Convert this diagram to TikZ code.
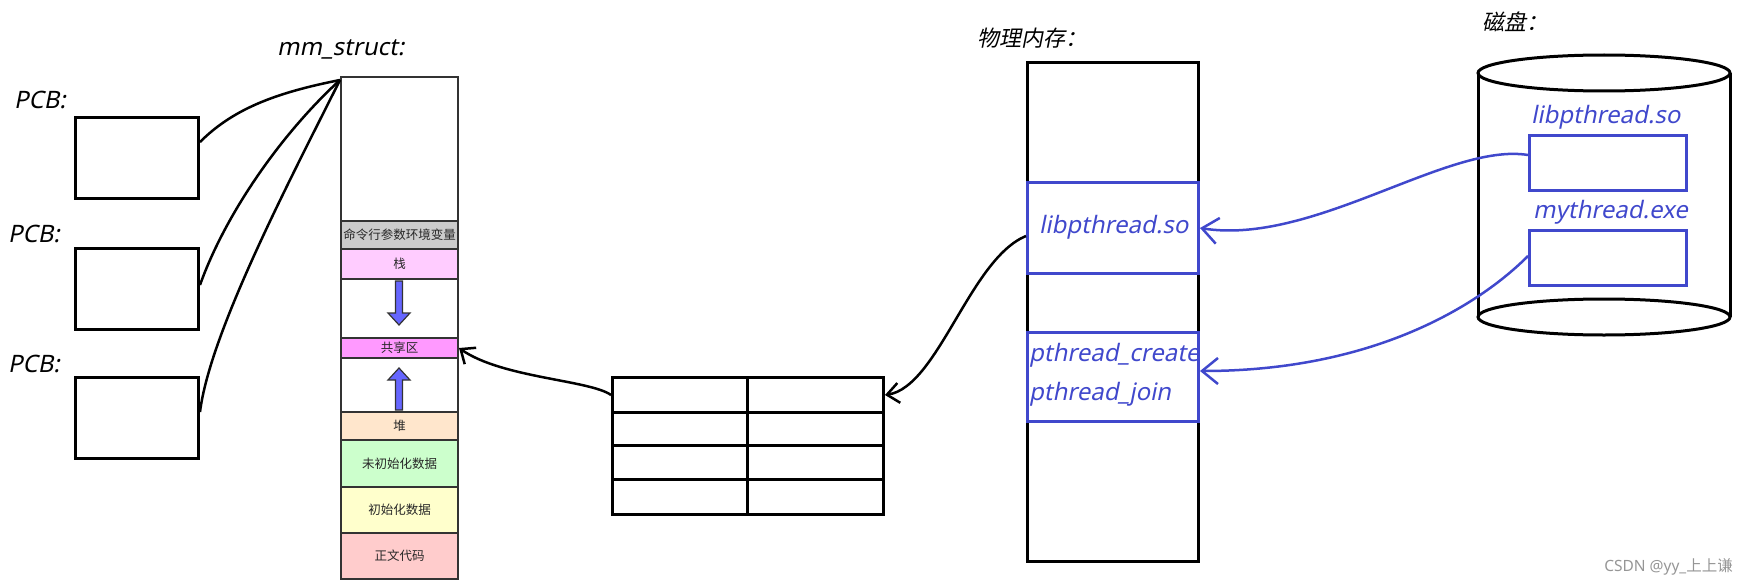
\documentclass[tikz,border=0pt]{standalone}
\usepackage{fontspec}
\setmainfont{Noto Sans}
\newfontfamily\lat[FakeSlant=0.2]{Noto Sans}
\newfontfamily\cjk{Noto Sans CJK SC}
\newfontfamily\cjksl[FakeSlant=0.2]{Noto Sans CJK SC}
\usetikzlibrary{arrows.meta}
\definecolor{lineblue}{RGB}{64,72,204}
\definecolor{segline}{RGB}{51,51,51}
\definecolor{segtext}{RGB}{40,40,40}
\definecolor{cmdfill}{HTML}{CCCCCC}
\definecolor{stackfill}{HTML}{FFCCFF}
\definecolor{sharefill}{HTML}{FF99FF}
\definecolor{heapfill}{HTML}{FFE6CC}
\definecolor{bssfill}{HTML}{CCFFCC}
\definecolor{datafill}{HTML}{FFFFCC}
\definecolor{codefill}{HTML}{FFCCCC}
\definecolor{arrowfill}{HTML}{6666FF}
\definecolor{wmgray}{RGB}{150,150,150}
\begin{document}
\begin{tikzpicture}[x=1pt,y=-1pt,
  box/.style={draw=black, line width=3pt, inner sep=0pt, anchor=north west},
  seg/.style={draw=segline, line width=2pt, inner sep=0pt, anchor=north west, minimum width=117pt, font=\cjk\fontsize{12.5}{14}\selectfont, text=segtext},
  bbox/.style={draw=lineblue, line width=3pt, inner sep=0pt, anchor=north west},
  lbl/.style={font=\lat\fontsize{24}{28}\selectfont, inner sep=0pt, anchor=base west},
  btxt/.style={lbl, text=lineblue},
  plainc/.style={line width=2.5pt},
  conn/.style={line width=2.5pt, -{Straight Barb[length=12pt,width=20pt]}},
  bconn/.style={line width=2.5pt, draw=lineblue, -{Straight Barb[length=16pt,width=26pt]}},
  growarrow/.style={fill=arrowfill, draw=segline, line width=1.2pt, line join=miter}
]
\useasboundingbox (0,0) rectangle (1749,586);

% PCB boxes and labels
\node[lbl] (pcbl1) at (14,108) {PCB:};
\node[lbl] (pcbl2) at (8,242) {PCB:};
\node[lbl] (pcbl3) at (8,372) {PCB:};
\node[box, minimum width=123pt, minimum height=81pt] (pcb1) at (74,116) {};
\node[box, minimum width=123pt, minimum height=81pt] (pcb2) at (74,247) {};
\node[box, minimum width=123pt, minimum height=81pt] (pcb3) at (74,376) {};

% mm_struct column
\node[lbl] (mmlbl) at (277,56) {mm\_struct:};
\node[seg, minimum height=144pt, fill=white] (mtop) at (340,76) {};
\node[seg, minimum height=28pt, fill=cmdfill] (cmd) at (340,220) {命令行参数环境变量};
\node[seg, minimum height=30pt, fill=stackfill] (stack) at (340,248) {栈};
\node[seg, minimum height=59pt, fill=white] (gap1) at (340,278) {};
\node[seg, minimum height=20pt, fill=sharefill] (shared) at (340,337) {共享区};
\node[seg, minimum height=54pt, fill=white] (gap2) at (340,357) {};
\node[seg, minimum height=28pt, fill=heapfill] (heap) at (340,411) {堆};
\node[seg, minimum height=47pt, fill=bssfill] (bss) at (340,439) {未初始化数据};
\node[seg, minimum height=46pt, fill=datafill] (data) at (340,486) {初始化数据};
\node[seg, minimum height=46pt, fill=codefill] (code) at (340,532) {正文代码};

% growth arrows
\draw[growarrow] (395.5,281) -- (402.5,281) -- (402.5,313) -- (410,313) -- (399,325) -- (388,313) -- (395.5,313) -- cycle;
\draw[growarrow] (395.5,410) -- (402.5,410) -- (402.5,380) -- (410,380) -- (399,368) -- (388,380) -- (395.5,380) -- cycle;

% table
\node[box, minimum width=135pt, minimum height=35pt] (t11) at (611,376) {};
\node[box, minimum width=136pt, minimum height=35pt] (t12) at (746,376) {};
\node[box, minimum width=135pt, minimum height=33pt] (t21) at (611,411) {};
\node[box, minimum width=136pt, minimum height=33pt] (t22) at (746,411) {};
\node[box, minimum width=135pt, minimum height=34pt] (t31) at (611,444) {};
\node[box, minimum width=136pt, minimum height=34pt] (t32) at (746,444) {};
\node[box, minimum width=135pt, minimum height=35pt] (t41) at (611,478) {};
\node[box, minimum width=136pt, minimum height=35pt] (t42) at (746,478) {};

% physical memory
\node[lbl, font=\cjksl\fontsize{22}{26}\selectfont] (physlbl) at (977,47) {物理内存：};
\node[box, minimum width=171pt, minimum height=499pt] (phys) at (1026,61) {};
\node[bbox, minimum width=171pt, minimum height=91pt] (plib) at (1026,181) {};
\node[bbox, minimum width=171pt, minimum height=89pt] (pfun) at (1026,331) {};
\node[btxt] (plibtxt) at (1039,233) {libpthread.so};
\node[btxt] (pcreate) at (1029,361) {pthread\_create};
\node[btxt] (pjoin) at (1029,400) {pthread\_join};

% disk
\node[lbl, font=\cjksl\fontsize{22}{26}\selectfont] (disklbl) at (1482,31) {磁盘：};
\draw[line width=3pt] (1478,73) -- (1478,317);
\draw[line width=3pt] (1730,73) -- (1730,317);
\draw[line width=3pt] (1604,73) ellipse [x radius=126pt, y radius=18pt];
\draw[line width=3pt] (1604,317) ellipse [x radius=126pt, y radius=18pt];
\node[btxt] (dlibtxt) at (1531,123) {libpthread.so};
\node[btxt] (dexetxt) at (1533,218) {mythread.exe};
\node[bbox, minimum width=157pt, minimum height=55pt] (dlib) at (1528,134) {};
\node[bbox, minimum width=157pt, minimum height=55pt] (dexe) at (1528,229) {};

% connectors PCB -> mm_struct
\coordinate (mmcorner) at ([yshift=-4pt]mtop.north west);
\draw[plainc] ([yshift=16pt]pcb1.east) .. controls +(35,-35) and +(-60,12) .. (mmcorner);
\draw[plainc] ([yshift=4pt]pcb2.east) .. controls +(25,-70) and +(-60,55) .. (mmcorner);
\draw[plainc] ([yshift=6pt]pcb3.east) .. controls +(10,-80) and +(-50,100) .. (mmcorner);

% table -> shared area
\draw[conn] (t11.west) .. controls +(-21,-15) and +(43,30) .. (shared.east);
% physical libpthread -> table
\draw[conn] ([yshift=-8pt]plib.west) .. controls +(-56,23) and +(53,-8) .. (t12.east);

% disk -> physical memory
\draw[bconn] ([yshift=8pt]dlib.west) .. controls +(-80,-13) and +(113,18) .. (plib.east);
\draw[bconn] ([yshift=2pt]dexe.west) .. controls +(-50,50) and +(173,0) .. ([yshift=6pt]pfun.east);

% watermark
\node[font=\fontsize{15.5}{18}\selectfont, text=wmgray, inner sep=0pt, anchor=base east] (wm) at (1733,571) {CSDN @yy\_{\cjk 上上谦}};
\end{tikzpicture}
\end{document}
